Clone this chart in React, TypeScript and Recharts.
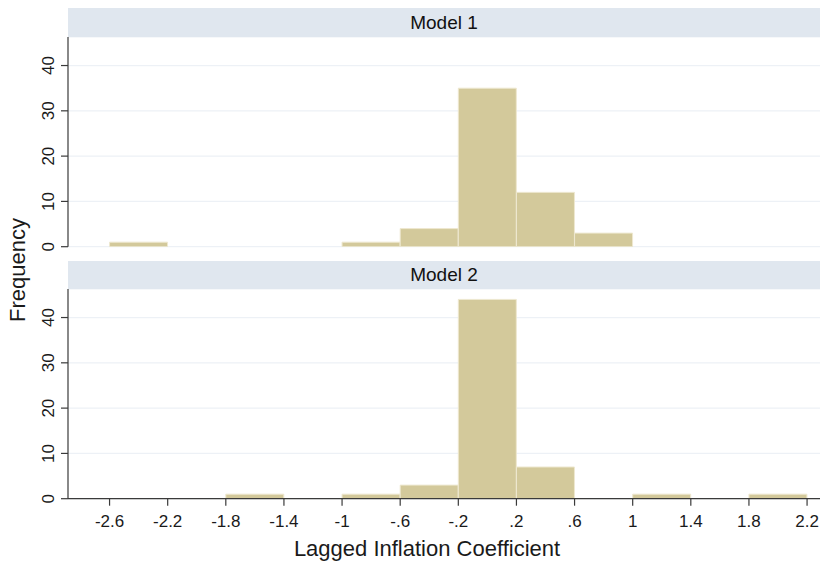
import React from 'react';
import { BarChart, Bar, XAxis, YAxis, CartesianGrid } from 'recharts';

const binMids = [-2.4, -2.0, -1.6, -1.2, -0.8, -0.4, 0, 0.4, 0.8, 1.2, 1.6, 2.0];
const model1Counts = [1, 0, 0, 0, 1, 4, 35, 12, 3, 0, 0, 0];
const model2Counts = [0, 0, 1, 0, 1, 3, 44, 7, 0, 1, 0, 1];
const xTicks = [-2.6, -2.2, -1.8, -1.4, -1, -0.6, -0.2, 0.2, 0.6, 1, 1.4, 1.8, 2.2];
const xTickLabels = ['-2.6', '-2.2', '-1.8', '-1.4', '-1', '-.6', '-.2', '.2', '.6', '1', '1.4', '1.8', '2.2'];
const yTicks = [0, 10, 20, 30, 40];
const panelTitles = ['Model 1', 'Model 2'];
const xTitle = 'Lagged Inflation Coefficient';
const yTitle = 'Frequency';

const FONT = "'Liberation Sans', Arial, Helvetica, sans-serif";
const X_DOMAIN: [number, number] = [-2.886, 2.289];
const Y_DOMAIN: [number, number] = [0, 46.3];
const AXIS = '#3a3a3a';
const GRID = '#edf1f6';
const BAR_FILL = '#d3c99b';
const BAR_STROKE = '#eee8d0';
const HEADER = '#e0e7ef';

const data1 = binMids.map((mid, i) => ({ mid, count: model1Counts[i] }));
const data2 = binMids.map((mid, i) => ({ mid, count: model2Counts[i] }));

const fmtX = (v: number) => {
  const i = xTicks.findIndex((t) => Math.abs(t - v) < 1e-6);
  return i >= 0 ? xTickLabels[i] : String(v);
};

const YTick = (props: any) => {
  const { x, y, payload } = props;
  return (
    <text
      x={x}
      y={y}
      transform={`rotate(-90 ${x} ${y})`}
      textAnchor="middle"
      fontSize={17}
      fill="#1a1a1a"
      fontFamily={FONT}
    >
      {payload.value}
    </text>
  );
};

const Header = ({ top, height, title }: { top: number; height: number; title: string }) => (
  <div
    style={{
      position: 'absolute',
      left: 68,
      top,
      width: 752,
      height,
      background: HEADER,
      textAlign: 'center',
      lineHeight: `${height}px`,
      fontSize: 19,
      color: '#111',
      fontFamily: FONT,
    }}
  >
    {title}
  </div>
);

export default function App() {
  return (
    <div style={{ position: 'absolute', left: 0, top: 0, width: 826, height: 564, background: '#fff', fontFamily: FONT }}>
      <div style={{ position: 'absolute', left: 0, top: 0 }}>
        <BarChart
          width={826}
          height={258}
          data={data1}
          margin={{ top: 37, right: 6, bottom: 11.3, left: 0 }}
          barCategoryGap={0}
          barGap={0}
        >
          <CartesianGrid horizontal vertical={false} stroke={GRID} strokeWidth={1.2} />
          <XAxis type="number" dataKey="mid" domain={X_DOMAIN} allowDataOverflow ticks={xTicks} hide />
          <YAxis
            type="number"
            domain={Y_DOMAIN}
            allowDataOverflow
            ticks={yTicks}
            width={68}
            tickSize={7}
            tickMargin={7}
            interval={0}
            axisLine={{ stroke: AXIS, strokeWidth: 1.2 }}
            tickLine={{ stroke: AXIS, strokeWidth: 1.2 }}
            tick={<YTick />}
          />
          <Bar dataKey="count" fill={BAR_FILL} stroke={BAR_STROKE} strokeWidth={1} isAnimationActive={false} />
        </BarChart>
      </div>
      <div style={{ position: 'absolute', left: 0, top: 0 }}>
        <BarChart
          width={826}
          height={564}
          data={data2}
          margin={{ top: 289, right: 6, bottom: 0, left: 0 }}
          barCategoryGap={0}
          barGap={0}
        >
          <CartesianGrid horizontal vertical={false} stroke={GRID} strokeWidth={1.2} />
          <XAxis
            type="number"
            dataKey="mid"
            domain={X_DOMAIN}
            allowDataOverflow
            ticks={xTicks}
            interval={0}
            tickFormatter={fmtX}
            height={65.3}
            tickSize={7}
            tickMargin={9}
            axisLine={{ stroke: AXIS, strokeWidth: 1.2 }}
            tickLine={{ stroke: AXIS, strokeWidth: 1.2 }}
            tick={{ fontSize: 17, fill: '#1a1a1a', fontFamily: FONT }}
          />
          <YAxis
            type="number"
            domain={Y_DOMAIN}
            allowDataOverflow
            ticks={yTicks}
            width={68}
            tickSize={7}
            tickMargin={7}
            interval={0}
            axisLine={{ stroke: AXIS, strokeWidth: 1.2 }}
            tickLine={{ stroke: AXIS, strokeWidth: 1.2 }}
            tick={<YTick />}
          />
          <Bar dataKey="count" fill={BAR_FILL} stroke={BAR_STROKE} strokeWidth={1} isAnimationActive={false} />
        </BarChart>
      </div>
      <Header top={8} height={29} title={panelTitles[0]} />
      <Header top={261} height={28} title={panelTitles[1]} />
      <svg width={826} height={564} style={{ position: 'absolute', left: 0, top: 0, pointerEvents: 'none' }}>
        <text
          x={25}
          y={270}
          transform="rotate(-90 25 270)"
          textAnchor="middle"
          fontSize={22}
          fill="#1a1a1a"
          fontFamily={FONT}
        >
          {yTitle}
        </text>
        <text x={427} y={556} textAnchor="middle" fontSize={22} fill="#1a1a1a" fontFamily={FONT}>
          {xTitle}
        </text>
      </svg>
    </div>
  );
}
